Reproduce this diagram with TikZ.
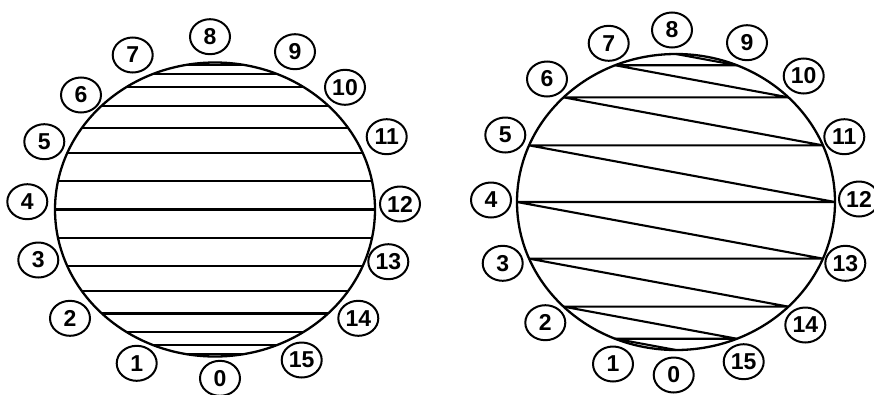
\documentclass[tikz,border=0pt]{standalone}
\usepackage{fontspec}
\setmainfont{Liberation Sans}
\usetikzlibrary{shapes.geometric}
\tikzset{
  lab/.style={draw, ellipse, line width=2pt, minimum width=40pt, minimum height=35pt, inner sep=0pt,
    font=\fontsize{23}{23}\selectfont\bfseries},
  rim/.style={line width=2.3pt},
  chord/.style={line width=2.1pt}
}
\begin{document}
\begin{tikzpicture}[x=1pt,y=-1pt]
\useasboundingbox (0,0) rectangle (874,394);
% ---------- left disc ----------
\def\lcx{215}\def\lcy{209.5}\def\lrx{160}\def\lry{147}
\draw[rim] (\lcx,\lcy) ellipse [x radius=\lrx, y radius=\lry];
\foreach \k in {-7,...,7}{
  \coordinate (La\k) at ({\lcx-\lrx*cos(\k*11.25)},{\lcy+\lry*sin(\k*11.25)});
  \coordinate (Lb\k) at ({\lcx+\lrx*cos(\k*11.25)},{\lcy+\lry*sin(\k*11.25)});
  \draw[chord] (La\k) -- (Lb\k);
}
\foreach \t/\px/\py in {8/210/36.7, 7/132.7/55, 9/295/51.7, 6/81/95, 10/345/87.3, 5/44.3/141.7,
  11/386.7/136.7, 4/27.3/201.7, 12/400/204, 3/38.3/260, 13/388.3/261.7, 2/70/318.3,
  14/358.3/318.3, 1/136.7/363.3, 15/301.7/360, 0/220/378.3}{
  \node[lab] (l\t) at (\px,\py) {\t};
}
% ---------- right disc ----------
\def\rcx{676}\def\rcy{202}\def\rrx{159}\def\rry{148}
\draw[rim] (\rcx,\rcy) ellipse [x radius=\rrx, y radius=\rry];
\foreach \k in {0,...,15}{
  \coordinate (R\k) at ({\rcx+\rrx*cos(270-\k*22.5)},{\rcy-\rry*sin(270-\k*22.5)});
}
\draw[chord, line join=miter] (R0) -- (R1) -- (R15) -- (R2) -- (R14) -- (R3) -- (R13) -- (R4) -- (R12)
  -- (R5) -- (R11) -- (R6) -- (R10) -- (R7) -- (R9) -- (R8);
\foreach \t/\px/\py in {8/672/30, 7/608.7/43.3, 9/747/42.7, 6/547/79, 10/803.7/76, 5/505.3/135,
  11/844.3/136.7, 4/491/200, 12/859/199, 3/502.7/263.3, 13/845.3/263.3, 2/545.3/322.7,
  14/805.3/325, 1/613/364, 15/743.7/361.7, 0/673.7/375}{
  \node[lab] (r\t) at (\px,\py) {\t};
}
\end{tikzpicture}
\end{document}
